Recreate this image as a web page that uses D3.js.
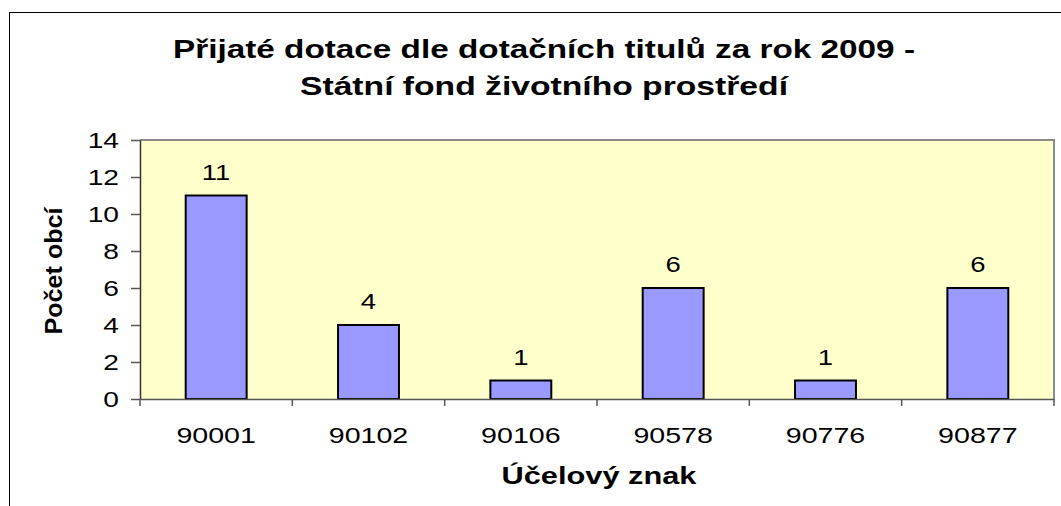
<!DOCTYPE html>
<html>
<head>
<meta charset="utf-8">
<script src="https://cdn.jsdelivr.net/npm/d3@7"></script>
<style>
  html, body { margin: 0; padding: 0; background: #fff; }
  svg { display: block; }
  text { font-family: "Liberation Sans", Arial, sans-serif; }
</style>
</head>
<body>
<svg id="chart" width="1061" height="506"></svg>
<script>
const categories = ["90001", "90102", "90106", "90578", "90776", "90877"];
const values = [11, 4, 1, 6, 1, 6];
const yTicks = [0, 2, 4, 6, 8, 10, 12, 14];
const titleLines = ["Přijaté dotace dle dotačních titulů za rok 2009 -", "Státní fond životního prostředí"];
const xTitle = "Účelový znak";
const yTitle = "Počet obcí";

const svg = d3.select("#chart");
const plot = { left: 140, right: 1054, top: 140, bottom: 399 };

function stretch(sel, factor) {
  sel.each(function () {
    const len = this.getComputedTextLength();
    d3.select(this).attr("textLength", len * factor).attr("lengthAdjust", "spacingAndGlyphs");
  });
}

// outer chart frame (extends beyond the visible window on right/bottom)
svg.append("rect")
  .attr("x", 9.5).attr("y", 12.5)
  .attr("width", 1200).attr("height", 700)
  .attr("fill", "#fff").attr("stroke", "#000").attr("stroke-width", 1);

const x = d3.scaleBand().domain(categories).range([plot.left, plot.right]).paddingInner(0.6).paddingOuter(0.3);
const xb = d3.scaleBand().domain(categories).range([plot.left, plot.right]);
const y = d3.scaleLinear().domain([0, 14]).range([plot.bottom, plot.top]);

// plot area background
svg.append("rect")
  .attr("x", plot.left).attr("y", plot.top)
  .attr("width", plot.right - plot.left).attr("height", plot.bottom - plot.top)
  .attr("fill", "#FFFFCC");
// gray plot border top & right
svg.append("path")
  .attr("d", `M${plot.left},${plot.top} H${plot.right} V${plot.bottom}`)
  .attr("fill", "none").attr("stroke", "#8c8c8c").attr("stroke-width", 2);

// bars
svg.selectAll("rect.bar").data(values).enter().append("rect")
  .attr("class", "bar")
  .attr("x", (d, i) => x(categories[i]))
  .attr("y", d => y(d))
  .attr("width", x.bandwidth())
  .attr("height", d => y(0) - y(d))
  .attr("fill", "#9999FF").attr("stroke", "#000").attr("stroke-width", 2);

// value labels
svg.selectAll("text.val").data(values).enter().append("text")
  .attr("class", "val")
  .attr("x", (d, i) => x(categories[i]) + x.bandwidth() / 2)
  .attr("y", d => y(d) - 16)
  .attr("text-anchor", "middle")
  .attr("font-size", 22).attr("fill", "#000")
  .text(d => d)
  .call(stretch, 1.25);

// y axis
const yAxis = svg.append("g").attr("transform", `translate(${plot.left},0)`)
  .call(d3.axisLeft(y).tickValues(yTicks).tickSize(9).tickPadding(12).tickSizeOuter(0));
yAxis.select(".domain").attr("stroke", "#333").attr("stroke-width", 1.5);
yAxis.selectAll(".tick line").attr("stroke", "#555").attr("stroke-width", 1.5);
yAxis.selectAll(".tick text").attr("font-size", 22).attr("fill", "#000")
  .attr("font-family", "Liberation Sans, Arial, sans-serif")
  .call(stretch, 1.28);

// x axis
const xAxis = svg.append("g").attr("transform", `translate(0,${plot.bottom})`)
  .call(d3.axisBottom(xb).tickSize(0).tickPadding(28).tickSizeOuter(0));
xAxis.select(".domain").attr("stroke", "#555").attr("stroke-width", 1.5);
xAxis.selectAll(".tick text").attr("font-size", 22).attr("fill", "#000")
  .attr("font-family", "Liberation Sans, Arial, sans-serif")
  .call(stretch, 1.3);
// boundary ticks between categories
const bounds = categories.map(c => xb(c)).concat([plot.right]);
svg.selectAll("line.xt").data(bounds).enter().append("line")
  .attr("class", "xt")
  .attr("x1", d => d).attr("x2", d => d)
  .attr("y1", plot.bottom).attr("y2", plot.bottom + 7)
  .attr("stroke", "#555").attr("stroke-width", 1.5);

// title
svg.selectAll("text.title").data(titleLines).enter().append("text")
  .attr("class", "title")
  .attr("x", 544).attr("y", (d, i) => 58 + i * 37)
  .attr("text-anchor", "middle")
  .attr("font-size", 26).attr("font-weight", "bold").attr("fill", "#000")
  .attr("textLength", (d, i) => i === 0 ? 742 : 488)
  .attr("lengthAdjust", "spacingAndGlyphs")
  .text(d => d);

// axis titles
svg.append("text")
  .attr("x", 599).attr("y", 484)
  .attr("text-anchor", "middle")
  .attr("font-size", 23).attr("font-weight", "bold")
  .attr("textLength", 195).attr("lengthAdjust", "spacingAndGlyphs")
  .text(xTitle);
svg.append("text")
  .attr("transform", "translate(62,271) rotate(-90)")
  .attr("text-anchor", "middle")
  .attr("font-size", 23).attr("font-weight", "bold")
  .attr("textLength", 127).attr("lengthAdjust", "spacingAndGlyphs")
  .text(yTitle);
</script>
</body>
</html>
